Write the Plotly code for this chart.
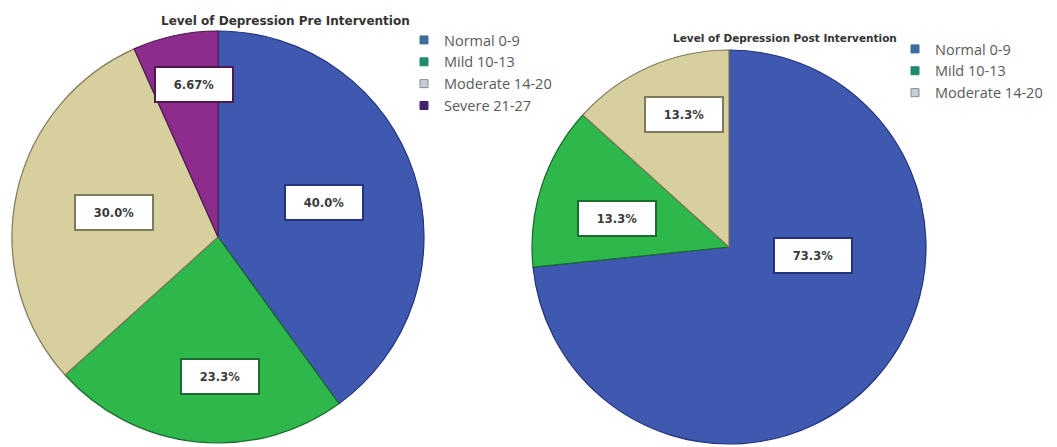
import math
import plotly.graph_objects as go

W, H = 1057, 447

# Depression level shares (%) before and after the intervention
categories_pre = ["Normal 0-9", "Mild 10-13", "Moderate 14-20", "Severe 21-27"]
pct_pre = [40.0, 23.3, 30.0, 6.67]

categories_post = ["Normal 0-9", "Mild 10-13", "Moderate 14-20"]
pct_post = [73.3, 13.3, 13.3]

# Slice fills / outlines
slice_fill = {"Normal 0-9": "#3F58B0", "Mild 10-13": "#2EB84B",
              "Moderate 14-20": "#D7CF9D", "Severe 21-27": "#8C2C8C"}
slice_edge = {"Normal 0-9": "#25337C", "Mild 10-13": "#1B6C2D",
              "Moderate 14-20": "#7F7A5C", "Severe 21-27": "#4C1A4E"}
# Legend swatch colours
legend_fill = {"Normal 0-9": "#3C6D9E", "Mild 10-13": "#1F8B6C",
               "Moderate 14-20": "#C9CDD4", "Severe 21-27": "#44216E"}
legend_edge = {"Normal 0-9": "#3C6D9E", "Mild 10-13": "#1F8B6C",
               "Moderate 14-20": "#858B96", "Severe 21-27": "#44216E"}

# Pie geometry in pixels (centre x, centre y, radius)
geo_pre = (218, 237, 206)
geo_post = (729, 247, 197)

# Label placement: radial fraction and angular nudge (deg) per slice
lab_pre_r = [0.54, 0.675, 0.52, 0.75]
lab_pre_shift = [0, -7, 1.5, 3]
lab_post_r = [0.43, 0.585, 0.71]
lab_post_shift = [-36.6, -4, 5]


def domain(geo):
    cx, cy, r = geo
    return dict(x=[(cx - r) / W, (cx + r) / W],
                y=[1 - (cy + r) / H, 1 - (cy - r) / H])


def fmt(v):
    return f"{v:.1f}%" if v >= 10 else f"{v:.2f}%"


def label_annotations(cats, vals, geo, rfrac, shift):
    cx, cy, R = geo
    total = sum(vals)
    start = 0.0
    anns = []
    for c, v, rf, sh in zip(cats, vals, rfrac, shift):
        span = 360.0 * v / total
        a = math.radians(start + span / 2 + sh)
        px = cx + rf * R * math.sin(a)
        py = cy - rf * R * math.cos(a)
        anns.append(dict(
            x=px / W, y=1 - py / H, xref="paper", yref="paper",
            text=f"<b>{fmt(v)}</b>", showarrow=False, xanchor="center", yanchor="middle",
            width=74, height=31, align="center", valign="middle",
            bgcolor="white", bordercolor=slice_edge[c], borderwidth=2, borderpad=1,
            font=dict(family="DejaVu Sans", size=11.5, color="#3A3A3A"),
        ))
        start += span
    return anns


fig = go.Figure()

for cats, vals, geo in [(categories_pre, pct_pre, geo_pre),
                        (categories_post, pct_post, geo_post)]:
    fig.add_trace(go.Pie(
        labels=cats, values=vals, sort=False, direction="clockwise", rotation=0,
        marker=dict(colors=[slice_fill[c] for c in cats],
                    line=dict(color=[slice_edge[c] for c in cats], width=1.2)),
        textinfo="none", hoverinfo="label+percent", showlegend=False,
        domain=domain(geo),
    ))

# Legend entries
for cats, leg in [(categories_pre, "legend"), (categories_post, "legend2")]:
    for c in cats:
        fig.add_trace(go.Scatter(
            x=[None], y=[None], mode="markers", name=c, legend=leg,
            marker=dict(symbol="square", size=8, color=legend_fill[c],
                        line=dict(color=legend_edge[c], width=1)),
        ))

annotations = []
annotations += label_annotations(categories_pre, pct_pre, geo_pre, lab_pre_r, lab_pre_shift)
annotations += label_annotations(categories_post, pct_post, geo_post, lab_post_r, lab_post_shift)
annotations.append(dict(
    x=285 / W, y=1 - 21 / H, xref="paper", yref="paper", showarrow=False,
    text="<b>Level of Depression Pre Intervention</b>", xanchor="center", yanchor="middle",
    font=dict(family="DejaVu Sans", size=12, color="#333333")))
annotations.append(dict(
    x=785 / W, y=1 - 38 / H, xref="paper", yref="paper", showarrow=False,
    text="<b>Level of Depression Post Intervention</b>", xanchor="center", yanchor="middle",
    font=dict(family="DejaVu Sans", size=10.5, color="#333333")))

legend_font = dict(family="Open Sans", size=14.5, color="#5A5A5A")
fig.update_layout(
    width=W, height=H,
    margin=dict(l=0, r=0, t=0, b=0),
    paper_bgcolor="white", plot_bgcolor="white",
    xaxis=dict(visible=False), yaxis=dict(visible=False),
    annotations=annotations,
    legend=dict(x=404 / W, y=1 - 24 / H, xanchor="left", yanchor="top",
                font=legend_font, bgcolor="rgba(0,0,0,0)", tracegroupgap=0),
    legend2=dict(x=895 / W, y=1 - 33 / H, xanchor="left", yanchor="top",
                 font=legend_font, bgcolor="rgba(0,0,0,0)", tracegroupgap=0),
)

fig.write_html("out.html")
